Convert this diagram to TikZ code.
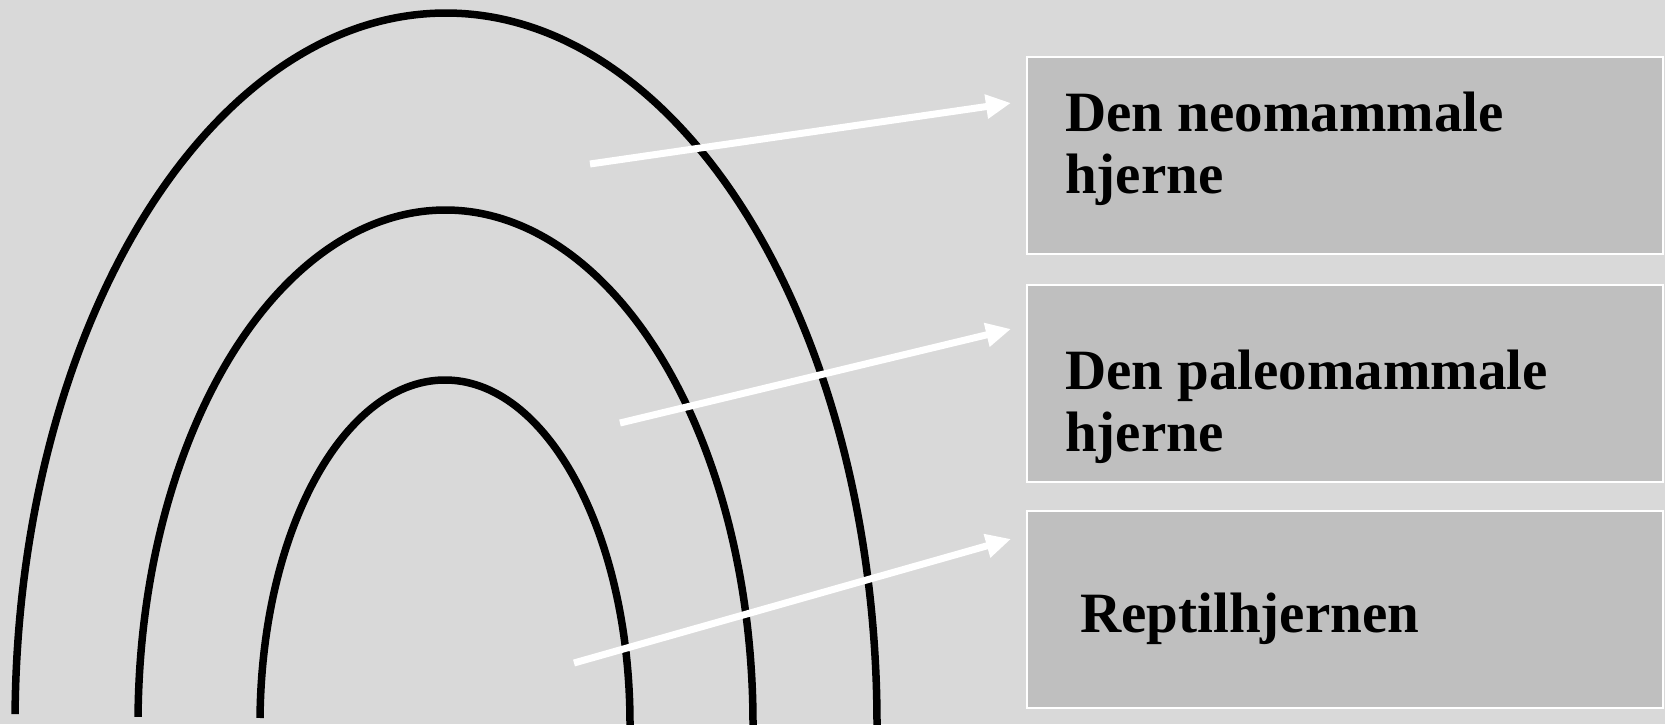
\documentclass[tikz,border=0pt]{standalone}
\usepackage{fontspec}
\setmainfont{Liberation Serif}
\usetikzlibrary{arrows.meta}
\definecolor{bg}{HTML}{D9D9D9}
\definecolor{boxfill}{HTML}{BFBFBF}
\begin{document}
\begin{tikzpicture}[x=1pt,y=1pt,
  brainarc/.style={line width=7.5pt, draw=black},
  pointer/.style={draw=white, line width=7pt, -{Triangle[length=25pt,width=23pt,fill=white]}},
  labelbox/.style={draw=white, line width=1.5pt, fill=boxfill, minimum width=636pt, minimum height=197pt, anchor=north west, inner sep=0pt, outer sep=0pt},
  labeltext/.style={anchor=base west, inner sep=0pt, align=left, font=\fontsize{57}{62}\selectfont\bfseries}]
\fill[bg] (0,0) rectangle (1665,724);
\useasboundingbox (0,0) rectangle (1665,724);
\clip (0,0) rectangle (1665,724);
% arcs
\draw[brainarc] (446,0) ++(179.2:431 and 711) arc[start angle=179.2, end angle=-1, x radius=431, y radius=711];
\draw[brainarc] (445.5,0) ++(179.2:307.5 and 514) arc[start angle=179.2, end angle=-1, x radius=307.5, y radius=514];
\draw[brainarc] (445,0) ++(179:185 and 344) arc[start angle=179, end angle=-1, x radius=185, y radius=344];
% boxes
\node[labelbox] (b1) at (1027,667) {};
\node[labelbox] (b2) at (1027,439) {};
\node[labelbox] (b3) at (1027,213) {};
\node[labeltext] (l1) at (1065,530) {Den neomammale\\hjerne};
\node[labeltext] (l2) at (1065,273) {Den paleomammale\\hjerne};
\node[labeltext] (l3) at (1080,92) {Reptilhjernen};
% arrows
\coordinate (s1) at (590,560);
\coordinate (t1) at (1011,621);
\coordinate (s2) at (620,301);
\coordinate (t2) at (1011,395);
\coordinate (s3) at (574,61);
\coordinate (t3) at (1011,185);
\draw[pointer] (s1) -- (t1);
\draw[pointer] (s2) -- (t2);
\draw[pointer] (s3) -- (t3);
\end{tikzpicture}
\end{document}
